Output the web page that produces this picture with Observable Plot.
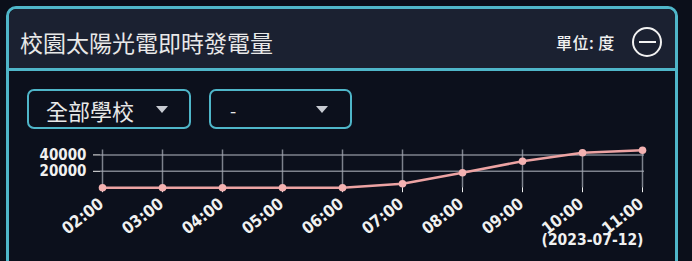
<!DOCTYPE html>
<html>
<head>
<meta charset="utf-8">
<script src="https://cdn.jsdelivr.net/npm/d3@7"></script>
<script src="https://cdn.jsdelivr.net/npm/@observablehq/plot@0.6"></script>
<style>
  html, body { margin: 0; padding: 0; width: 692px; height: 261px; overflow: hidden; background: #0b0f1a; }
  .abs { position: absolute; }
  #panel { left: 6px; top: 6px; width: 672px; height: 300px; box-sizing: border-box;
    border: 3px solid #4fb6c9; border-radius: 10px 10px 0 0; background: #0c101c; }
  #header { left: 9px; top: 9px; width: 666px; height: 59px; background: #1b2131; border-radius: 8px 8px 0 0;
    border-bottom: 3px solid #4fb6c9; }
  #title { left: 20px; top: 27px; font: 23px "Noto Sans CJK TC", sans-serif; color: #e8e8e8; line-height: 30px; white-space: nowrap; }
  #unit { left: 556px; top: 31px; font: 500 16px "Noto Sans CJK TC", sans-serif; color: #f0f0f0; line-height: 22px; white-space: nowrap; letter-spacing: 0.5px; }
  #circle { left: 632px; top: 27px; width: 26px; height: 26px; border: 2.5px solid #f2f2f2; border-radius: 50%; }
  #minus { left: 639px; top: 40.5px; width: 17px; height: 2.5px; background: #f2f2f2; }
  .dd { top: 89px; height: 40px; box-sizing: border-box; border: 2.5px solid #4fb6c9; border-radius: 7px; background: #0c101c; }
  .ddtext { top: 96px; font: 22px "Noto Sans CJK TC", sans-serif; color: #e8e8e8; line-height: 28px; white-space: nowrap; }
  .tri { width: 0; height: 0; border-left: 6px solid transparent; border-right: 6px solid transparent; border-top: 7px solid #c8cbd2; top: 106px; }
  #chart { left: 0; top: 140px; }
  #chart svg text { font-weight: bold; }
</style>
</head>
<body>
<div id="panel" class="abs"></div>
<div id="header" class="abs"></div>
<div id="title" class="abs">校園太陽光電即時發電量</div>
<div id="unit" class="abs">單位: 度</div>
<div id="circle" class="abs"></div>
<div id="minus" class="abs"></div>
<div class="abs dd" style="left:27px;width:164px;"></div>
<div class="abs ddtext" style="left:46px;">全部學校</div>
<div class="abs tri" style="left:156px;"></div>
<div class="abs dd" style="left:209px;width:143px;"></div>
<div class="abs ddtext" style="left:230px;font-size:18px;">-</div>
<div class="abs tri" style="left:316px;"></div>
<div id="chart" class="abs"></div>
<script>
const hours = ["02:00", "03:00", "04:00", "05:00", "06:00", "07:00", "08:00", "09:00", "10:00", "11:00"];
const values = [0, 0, 0, 0, 0, 4800, 18200, 32300, 42600, 45700];
const yTicks = [20000, 40000];
const dateLabel = "(2023-07-12)";

const data = hours.map((h, i) => ({hour: h, value: values[i]}));

const chart = Plot.plot({
  width: 692,
  height: 121,
  marginLeft: 100,
  marginRight: 48,
  marginTop: 9.5,
  marginBottom: 73.8,
  style: {background: "transparent", color: "#f0f0f0", fontFamily: "'DejaVu Sans Condensed', 'DejaVu Sans'", fontSize: "15px", overflow: "visible"},
  x: {type: "point", domain: hours, padding: 0, label: null, tickSize: 5, tickFormat: () => ""},
  y: {domain: [0, 46000], ticks: yTicks, label: null, tickSize: 7, tickPadding: 7, tickFormat: d => String(d)},
  marks: [
    Plot.ruleX(hours, {stroke: "#a4a8b3", strokeOpacity: 0.75, strokeWidth: 1.5}),
    Plot.ruleY(yTicks, {stroke: "#a4a8b3", strokeOpacity: 0.75, strokeWidth: 1.5}),
    Plot.line(data, {x: "hour", y: "value", stroke: "#eda3a3", strokeWidth: 2.5}),
    Plot.dot(data, {x: "hour", y: "value", r: 3.8, fill: "#f4b2b2", stroke: "none"}),
    Plot.text(hours, {x: d => d, frameAnchor: "bottom", dy: 9, dx: -5, rotate: -38, textAnchor: "end", lineAnchor: "top", fill: "#f0f0f0", fontSize: 16.5, letterSpacing: 0.5}),
    Plot.text([dateLabel], {x: () => hours[hours.length - 1], frameAnchor: "bottom", dy: 57, textAnchor: "end", dx: 1, fill: "#f0f0f0", fontSize: 15.5, letterSpacing: 0.4})
  ]
});
document.getElementById("chart").appendChild(chart);
</script>
</body>
</html>
